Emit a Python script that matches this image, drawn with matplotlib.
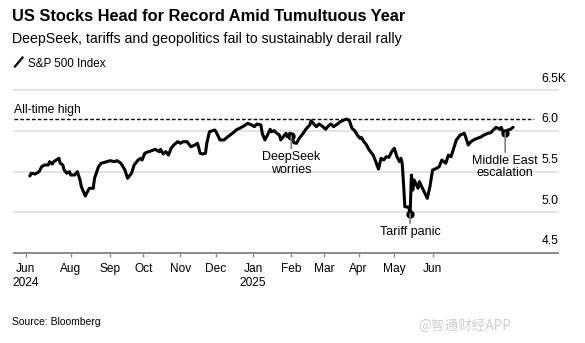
import matplotlib
matplotlib.use('Agg')
import matplotlib.pyplot as plt
from matplotlib.lines import Line2D
from matplotlib.transforms import ScaledTranslation
import pandas as pd

# S&P 500 closes
dates = [
    "2024-06-24", "2024-06-25", "2024-06-28", "2024-07-01", "2024-07-03", "2024-07-05",
    "2024-07-08", "2024-07-09", "2024-07-11", "2024-07-12", "2024-07-16", "2024-07-17",
    "2024-07-19", "2024-07-20", "2024-07-22", "2024-07-24", "2024-07-25", "2024-07-28",
    "2024-07-30", "2024-08-01", "2024-08-02", "2024-08-05", "2024-08-06", "2024-08-08",
    "2024-08-11", "2024-08-12", "2024-08-15", "2024-08-17", "2024-08-21", "2024-08-24",
    "2024-08-27", "2024-08-29", "2024-09-01", "2024-09-04", "2024-09-06", "2024-09-09",
    "2024-09-11", "2024-09-14", "2024-09-16", "2024-09-17", "2024-09-19", "2024-09-20",
    "2024-09-24", "2024-09-27", "2024-09-30", "2024-10-01", "2024-10-03", "2024-10-05",
    "2024-10-07", "2024-10-09", "2024-10-11", "2024-10-14", "2024-10-16", "2024-10-18",
    "2024-10-21", "2024-10-22", "2024-10-24", "2024-10-27", "2024-10-29", "2024-10-31",
    "2024-11-02", "2024-11-04", "2024-11-05", "2024-11-07", "2024-11-11", "2024-11-12",
    "2024-11-15", "2024-11-18", "2024-11-21", "2024-11-25", "2024-11-28", "2024-11-30",
    "2024-12-03", "2024-12-06", "2024-12-09", "2024-12-11", "2024-12-13", "2024-12-16",
    "2024-12-17", "2024-12-19", "2024-12-21", "2024-12-23", "2024-12-24", "2024-12-26",
    "2024-12-28", "2024-12-30", "2024-12-31", "2025-01-02", "2025-01-04", "2025-01-05",
    "2025-01-07", "2025-01-08", "2025-01-10", "2025-01-12", "2025-01-14", "2025-01-17",
    "2025-01-19", "2025-01-22", "2025-01-23", "2025-01-25", "2025-01-27", "2025-01-29",
    "2025-02-01", "2025-02-03", "2025-02-05", "2025-02-07", "2025-02-09", "2025-02-12",
    "2025-02-14", "2025-02-17", "2025-02-19", "2025-02-21", "2025-02-23", "2025-02-25",
    "2025-02-27", "2025-03-01", "2025-03-02", "2025-03-04", "2025-03-06", "2025-03-08",
    "2025-03-11", "2025-03-13", "2025-03-15", "2025-03-17", "2025-03-19", "2025-03-21",
    "2025-03-23", "2025-03-25", "2025-03-27", "2025-03-29", "2025-03-31", "2025-04-01",
    "2025-04-02", "2025-04-03", "2025-04-04", "2025-04-07", "2025-04-08", "2025-04-09",
    "2025-04-10", "2025-04-11", "2025-04-14", "2025-04-15", "2025-04-18", "2025-04-21",
    "2025-04-23", "2025-04-25", "2025-04-28", "2025-04-30", "2025-05-02", "2025-05-05",
    "2025-05-07", "2025-05-09", "2025-05-11", "2025-05-13", "2025-05-16", "2025-05-19",
    "2025-05-20", "2025-05-22", "2025-05-24", "2025-05-27", "2025-05-29", "2025-06-01",
    "2025-06-03", "2025-06-06", "2025-06-08", "2025-06-10", "2025-06-12", "2025-06-15",
    "2025-06-16", "2025-06-17", "2025-06-19", "2025-06-21", "2025-06-23", "2025-06-25",
]
values = [
    5445, 5478, 5469, 5498, 5559, 5580,
    5580, 5620, 5592, 5620, 5662, 5601,
    5580, 5518, 5478, 5498, 5457, 5457,
    5498, 5396, 5314, 5199, 5233, 5294,
    5294, 5417, 5559, 5601, 5620, 5633,
    5620, 5633, 5601, 5518, 5417, 5478,
    5580, 5641, 5662, 5641, 5723, 5731,
    5755, 5772, 5743, 5772, 5715, 5743,
    5702, 5785, 5825, 5866, 5846, 5866,
    5866, 5846, 5804, 5825, 5846, 5723,
    5715, 5723, 5846, 5988, 6009, 5988,
    5887, 5887, 5927, 5976, 6018, 6030,
    6058, 6091, 6071, 6050, 6083, 6071,
    5969, 5887, 5948, 6018, 5988, 6001,
    5969, 5948, 5887, 5927, 5969, 5927,
    5969, 5936, 5853, 5846, 5907, 5969,
    6018, 6071, 6123, 6083, 6050, 6083,
    6050, 6018, 6058, 6083, 6050, 6083,
    6111, 6132, 6144, 6123, 6030, 6001,
    5948, 5907, 5920, 5866, 5825, 5764,
    5702, 5620, 5530, 5662, 5641, 5682,
    5674, 5743, 5785, 5682, 5620, 5662,
    5601, 5355, 5068, 5061, 4982, 5457,
    5273, 5396, 5294, 5375, 5273, 5171,
    5314, 5518, 5539, 5559, 5641, 5601,
    5702, 5682, 5785, 5887, 5948, 5969,
    5927, 5825, 5866, 5895, 5907, 5927,
    5948, 5969, 5976, 6009, 6042, 6018,
    6042, 6001, 5976, 6009, 6018, 6042,
]

all_time_high = 6144

event_dates = ["2025-01-08", "2025-04-08", "2025-06-19"]
event_values = [5936, 4982, 5976]
event_labels = ["DeepSeek\nworries", "Tariff panic", "Middle East\nescalation"]
event_offsets = [11, 9, 16]  # points below the dot

# tick marks sit where the reference puts them
tick_dates = ["2024-06-21", "2024-07-25", "2024-08-24", "2024-09-18", "2024-10-16",
              "2024-11-12", "2024-12-10", "2025-01-08", "2025-02-02", "2025-02-28",
              "2025-03-27", "2025-04-25"]
tick_labels = ["Jun\n2024", "Aug", "Sep", "Oct", "Nov", "Dec", "Jan\n2025",
               "Feb", "Mar", "Apr", "May", "Jun"]
y_ticks = [4500, 5000, 5500, 6000, 6500]
y_labels = ["4.5", "5.0", "5.5", "6.0", "6.5K"]

plt.rcParams['font.family'] = ['Liberation Sans', 'DejaVu Sans']

W, H = 585, 343
fig = plt.figure(figsize=(W / 100, H / 100), dpi=100)


def fx(x):
    return x / W


def fy(y):
    return 1 - y / H


ax = fig.add_axes([fx(14), fy(253), (558 - 14) / W, (253 - 90) / H])

x = pd.to_datetime(dates)
ax.plot(x, values, color='black', lw=2.2, solid_joinstyle='round',
        solid_capstyle='round', zorder=4)

ax.set_xlim(pd.Timestamp("2024-06-12"), pd.Timestamp("2025-07-29"))
ax.set_ylim(4500, 6500)

# all-time high
ax.axhline(all_time_high, xmin=0, xmax=0.955, color='black', lw=1,
           dashes=(2.6, 1.6), zorder=3)
ax.annotate("All-time high", xy=(0, all_time_high),
            xycoords=('axes fraction', 'data'), xytext=(0, 2.5),
            textcoords='offset points', ha='left', va='bottom', fontsize=8.7)

# events
ev_x = pd.to_datetime(event_dates)
ax.plot(ev_x, event_values, 'o', color='black', ms=5, zorder=5)
for d, v, lab, off in zip(ev_x, event_values, event_labels, event_offsets):
    ax.annotate(lab, xy=(d, v), xytext=(0, -off), textcoords='offset points',
                ha='center', va='top', fontsize=9, linespacing=1.05,
                arrowprops=dict(arrowstyle='-', color='#808080', lw=1.2,
                                shrinkA=0, shrinkB=0), zorder=6)

# axes styling
for side in ['top', 'left', 'right']:
    ax.spines[side].set_visible(False)
ax.spines['bottom'].set_color('#8c8c8c')
ax.spines['bottom'].set_linewidth(1.4)

ax.set_xticks(pd.to_datetime(tick_dates))
ax.set_xticklabels(tick_labels, fontsize=8.6, linespacing=1.25)
ax.tick_params(axis='x', direction='out', length=3.2, width=1, color='#8c8c8c',
               pad=4)

ax.yaxis.tick_right()
ax.set_yticks(y_ticks)
ax.set_yticklabels(y_labels, fontsize=8.7)
ax.tick_params(axis='y', length=0, pad=0)
shift = ScaledTranslation(-0.163, 0.13, fig.dpi_scale_trans)
for lab in ax.get_yticklabels():
    lab.set_horizontalalignment('left')
    lab.set_transform(lab.get_transform() + shift)

ax.grid(axis='y', color='#e2e2e2', lw=1.3)
ax.set_axisbelow(True)
for gl in ax.get_ygridlines():
    gl.set_clip_on(False)

# header
fig.text(fx(12), fy(21), "US Stocks Head for Record Amid Tumultuous Year",
         fontsize=11.8, fontweight='bold', va='baseline')
fig.text(fx(12), fy(43.5), "DeepSeek, tariffs and geopolitics fail to sustainably derail rally",
         fontsize=10.2, va='baseline')
fig.add_artist(Line2D([fx(15), fx(22.5)], [fy(66.5), fy(57.5)], color='black', lw=1.6))
fig.text(fx(28), fy(66.7), "S&P 500 Index", fontsize=8.4, va='baseline')

# footer
fig.text(fx(12), fy(325), "Source: Bloomberg", fontsize=7.5, va='baseline')
fig.text(fx(418), fy(330), "@智通财经APP", fontsize=9.8, va='baseline',
         color='#cfcfcf', family=['Noto Sans CJK SC', 'DejaVu Sans'])

fig.savefig('out.png', dpi=100)
